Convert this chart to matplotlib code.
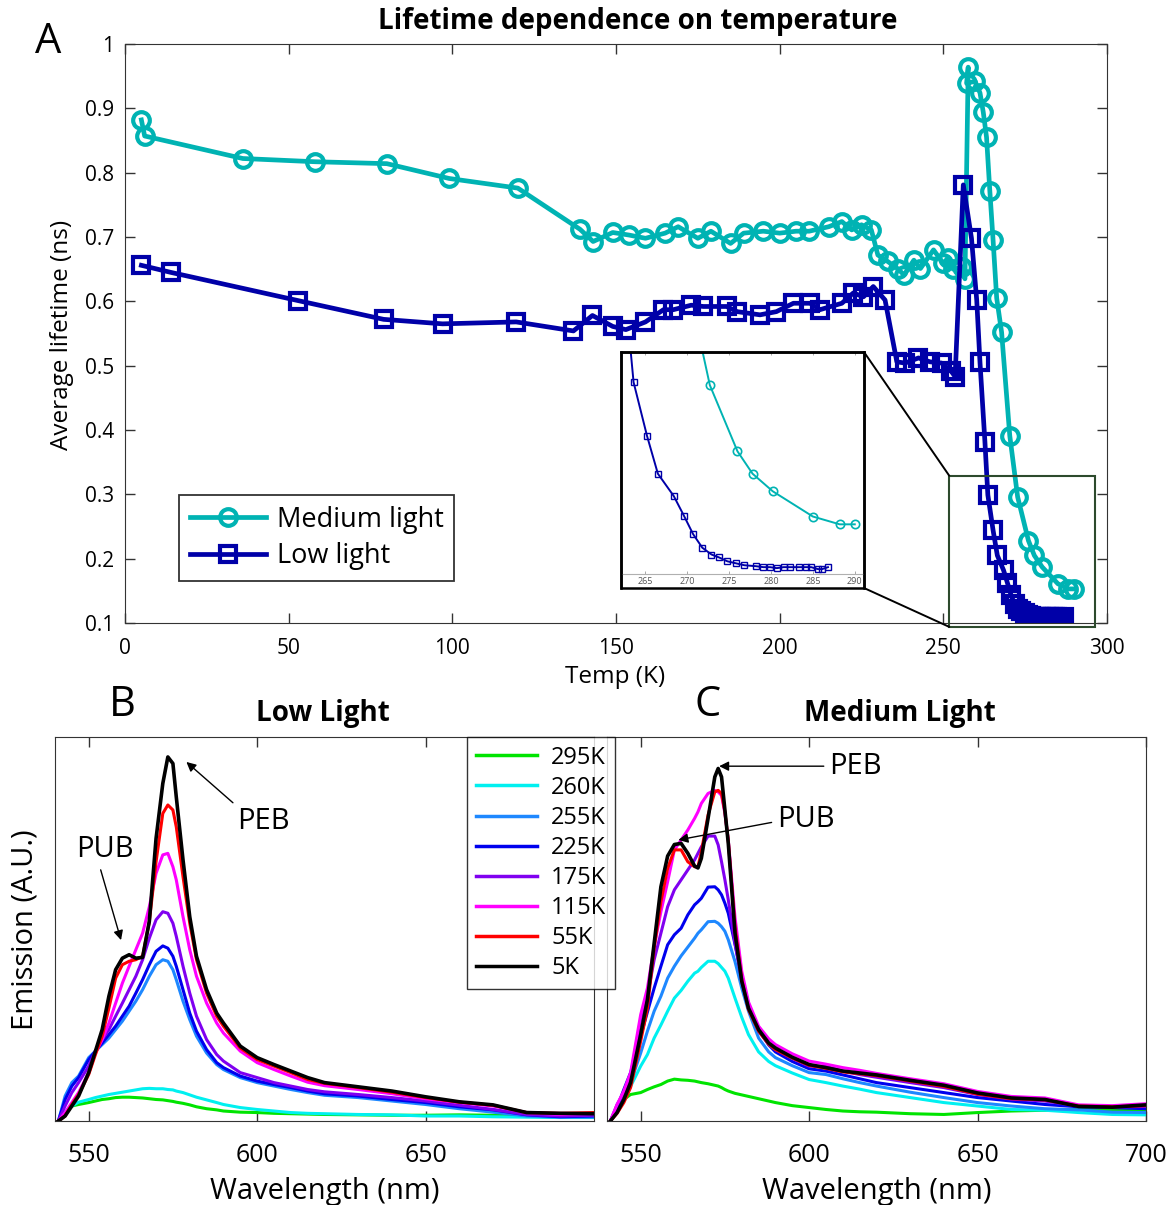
import matplotlib
matplotlib.use("Agg")
import matplotlib.pyplot as plt
from matplotlib.patches import Rectangle, ConnectionPatch

plt.rcParams['font.family'] = ['Open Sans', 'DejaVu Sans']

# ---- Panel A: average lifetime vs temperature ----
medium_T = [5, 6, 36, 58, 80, 99, 120, 139, 143, 149, 154, 159, 165, 169, 175, 179,
            185, 189, 195, 200, 205, 209, 215, 219, 222, 225, 228, 230, 233, 236, 238,
            241, 243, 247, 250, 251.5, 253, 255.6, 256.6, 257.6, 257.1, 259.7, 261.2,
            262.2, 263.2, 264.2, 265.2, 266.3, 267.8, 270.3, 272.7, 276, 277.8, 280.2,
            285, 288.2, 290]
medium_tau = [0.882, 0.857, 0.822, 0.817, 0.814, 0.791, 0.776, 0.712, 0.693, 0.707,
              0.703, 0.698, 0.706, 0.716, 0.698, 0.709, 0.690, 0.706, 0.709, 0.706,
              0.709, 0.709, 0.716, 0.724, 0.711, 0.719, 0.711, 0.672, 0.662, 0.651,
              0.641, 0.664, 0.651, 0.680, 0.659, 0.668, 0.650, 0.653, 0.635, 0.964,
              0.939, 0.942, 0.924, 0.894, 0.855, 0.772, 0.695, 0.605, 0.552, 0.391,
              0.296, 0.228, 0.205, 0.187, 0.161, 0.153, 0.153]

low_T = [5, 14, 53, 79, 97, 119.5, 137, 142.8, 149, 153, 159, 164.5, 167.5, 173, 176.7,
         183.8, 187, 194, 199, 204.2, 209.3, 212.3, 219, 222.5, 225.6, 228.6, 232.2,
         235.8, 238.3, 242.4, 245.9, 249.5, 252.3, 253.6, 256.1, 258.6, 260.2, 261.2,
         262.7, 263.6, 265.2, 266.5, 268.4, 269.6, 270.7, 271.8, 272.9, 273.8, 274.8,
         275.8, 276.8, 278.2, 279.1, 279.9, 280.7, 281.5, 282.3, 283.4, 284.2, 284.8,
         285.6, 286.1, 286.8]
low_tau = [0.656, 0.645, 0.601, 0.572, 0.565, 0.568, 0.554, 0.578, 0.561, 0.556, 0.568,
           0.587, 0.587, 0.594, 0.592, 0.592, 0.584, 0.579, 0.584, 0.597, 0.597, 0.587,
           0.597, 0.613, 0.607, 0.623, 0.602, 0.506, 0.504, 0.512, 0.506, 0.504, 0.492,
           0.483, 0.781, 0.698, 0.602, 0.505, 0.382, 0.299, 0.244, 0.205, 0.182, 0.162,
           0.143, 0.129, 0.122, 0.119, 0.115, 0.113, 0.111, 0.110, 0.109, 0.109, 0.108,
           0.109, 0.109, 0.109, 0.109, 0.109, 0.107, 0.107, 0.109]

# ---- Panels B/C: emission spectra (arbitrary units, % of axis height) ----
temps = ['295K', '260K', '255K', '225K', '175K', '115K', '55K', '5K']
colors = ['#00E400', '#00F0F0', '#1E88FF', '#0000EE', '#8000F0', '#FF00FF', '#FF0000', '#000000']

wl_b = [541, 543, 545, 547, 550, 552, 554, 556, 558, 560, 562, 564, 566, 568, 570, 572,
        573.5, 575, 576, 578, 580, 582, 585, 588, 590, 595, 600, 605, 610, 615, 620,
        630, 640, 650, 660, 670, 680, 690, 700]
low_295 = [0, 2.2, 3.9, 4.3, 4.8, 5.2, 5.6, 5.8, 6.1, 6.2, 6.2, 6.1, 6.0, 5.8, 5.6, 5.5,
           5.3, 5.1, 4.9, 4.6, 4.2, 3.7, 3.2, 2.9, 2.6, 2.3, 2.2, 2.0, 1.9, 1.8, 1.7,
           1.6, 1.5, 1.5, 1.6, 1.5, 1.3, 1.1, 1.0]
low_260 = [0, 2.2, 3.9, 4.9, 5.6, 6.1, 6.5, 6.9, 7.2, 7.5, 7.8, 8.1, 8.4, 8.5, 8.4, 8.4,
           8.2, 8.1, 7.8, 7.4, 6.8, 6.2, 5.5, 4.8, 4.3, 3.5, 3.0, 2.6, 2.2, 2.0, 1.9,
           1.7, 1.6, 1.3, 1.3, 1.1, 1.0, 0.9, 0.9]
low_255 = [0, 6.5, 10.0, 11.7, 16.5, 18.2, 19.9, 21.6, 23.8, 26.0, 28.6, 31.2, 34.2,
           37.7, 40.7, 42.0, 41.6, 39.4, 36.8, 31.2, 26.4, 22.1, 17.7, 14.7, 13.4, 11.3,
           10.0, 9.1, 8.2, 7.4, 6.7, 6.1, 5.2, 4.3, 3.2, 2.3, 1.3, 1.0, 1.0]
low_225 = [0, 5.6, 9.1, 11.3, 16.0, 18.2, 20.3, 22.5, 24.7, 27.3, 29.9, 33.3, 36.8,
           40.7, 44.2, 45.6, 45.0, 42.9, 40.3, 34.2, 28.1, 23.4, 18.6, 15.2, 13.9, 11.7,
           10.4, 9.5, 8.7, 7.8, 7.1, 6.5, 5.6, 4.8, 3.7, 2.9, 1.6, 1.1, 1.3]
low_175 = [0, 3.9, 7.4, 10.0, 14.3, 18.2, 21.2, 23.8, 27.3, 30.7, 34.2, 37.7, 42.0,
           47.6, 52.4, 54.5, 54.1, 51.5, 48.1, 40.3, 33.3, 27.3, 21.2, 17.3, 15.6, 12.6,
           11.3, 10.0, 9.1, 8.2, 7.6, 6.9, 6.1, 5.2, 4.1, 3.0, 1.7, 1.3, 1.5]
low_115 = [0, 2.2, 4.8, 7.4, 12.6, 17.7, 21.2, 25.5, 30.7, 35.9, 40.3, 44.6, 48.9,
           55.8, 64.5, 69.3, 69.7, 66.2, 62.8, 53.2, 44.6, 37.7, 30.7, 25.5, 22.9, 18.2,
           15.2, 13.4, 11.7, 10.1, 9.2, 8.2, 7.1, 5.8, 4.8, 3.9, 2.2, 1.7, 2.0]
low_55 = [0, 1.3, 4.3, 6.9, 12.1, 17.3, 22.1, 29.4, 37.2, 40.7, 41.6, 42.0, 42.9, 51.9,
          67.5, 80.1, 82.3, 81.0, 76.6, 63.6, 51.5, 42.0, 33.3, 27.3, 24.7, 19.0, 16.0,
          14.3, 12.6, 10.8, 9.8, 8.7, 7.5, 6.1, 4.9, 4.1, 2.2, 2.0, 2.2]
low_5 = [0, 1.3, 3.9, 6.5, 12.6, 18.2, 23.8, 32.5, 39.4, 42.4, 43.3, 42.4, 42.6, 52.0,
         73.6, 87.9, 94.8, 93.1, 84.4, 68.0, 53.2, 42.9, 34.2, 28.1, 25.5, 19.5, 16.5,
         14.7, 13.0, 11.3, 10.0, 8.9, 7.8, 6.3, 5.0, 4.2, 2.2, 2.0, 1.9]

wl_c = [541, 543, 545, 547, 550, 552, 554, 556, 558, 560, 562, 564, 566, 567, 568, 570,
        572, 573, 574, 575, 576, 578, 580, 582, 585, 588, 590, 595, 600, 605, 610, 615,
        620, 630, 640, 650, 660, 670, 680, 690, 700]
med_295 = [0, 3.0, 5.6, 6.9, 7.4, 8.2, 8.9, 9.5, 10.4, 10.9, 10.7, 10.6, 10.4, 10.2,
           10.0, 9.7, 9.3, 9.1, 8.7, 8.2, 7.8, 7.2, 6.8, 6.4, 5.8, 5.2, 4.8, 4.0, 3.5,
           3.0, 2.6, 2.4, 2.3, 1.9, 1.7, 2.2, 2.6, 2.8, 3.0, 2.9, 2.9]
med_260 = [0, 2.6, 6.5, 9.0, 14.3, 17.3, 21.6, 25.0, 28.6, 32.0, 34.0, 36.4, 38.5, 39.0,
           40.0, 41.6, 41.6, 41.0, 40.0, 39.0, 37.2, 32.0, 27.0, 22.5, 18.0, 15.5, 14.4,
           12.5, 10.8, 10.0, 9.1, 8.3, 7.4, 6.1, 4.8, 3.9, 3.0, 2.8, 2.2, 1.7, 1.6]
med_255 = [0, 3.0, 6.5, 10.0, 17.7, 23.4, 28.6, 32.5, 37.2, 40.3, 43.0, 45.3, 47.6,
           48.9, 49.8, 51.9, 52.0, 51.5, 50.6, 49.4, 47.2, 41.5, 34.6, 28.6, 21.6, 18.0,
           16.5, 14.4, 12.6, 12.1, 11.0, 10.0, 9.1, 7.5, 6.1, 4.8, 3.9, 3.2, 2.9, 2.3, 2.2]
med_225 = [0, 3.5, 8.2, 12.6, 22.1, 28.4, 34.6, 40.3, 45.9, 48.5, 50.2, 53.7, 56.3,
           57.1, 58.0, 60.9, 61.0, 60.2, 58.9, 56.7, 54.1, 46.0, 37.5, 30.5, 23.8, 19.8,
           18.0, 15.5, 13.6, 13.0, 12.0, 11.0, 10.0, 8.7, 7.4, 6.1, 5.2, 4.3, 3.7, 3.5, 3.2]
med_175 = [0, 4.3, 7.4, 11.7, 26.4, 32.5, 42.0, 48.9, 55.8, 60.2, 62.8, 65.4, 68.0,
           69.7, 71.4, 74.2, 74.2, 71.9, 67.5, 62.8, 57.6, 46.3, 36.4, 29.9, 23.4, 20.0,
           18.6, 16.3, 14.3, 14.2, 13.0, 12.1, 11.4, 10.0, 8.7, 6.9, 5.7, 5.2, 3.9, 3.6, 3.8]
med_115 = [0, 4.3, 7.8, 12.6, 27.7, 34.6, 45.5, 54.5, 62.3, 70.6, 73.2, 75.8, 78.8,
           80.5, 82.7, 85.3, 86.1, 85.7, 84.8, 80.1, 73.2, 53.0, 39.0, 31.0, 24.7, 21.4,
           19.9, 17.5, 15.6, 14.8, 13.9, 13.2, 12.4, 11.0, 9.7, 7.7, 6.4, 6.0, 4.2, 4.0, 4.5]
med_55 = [0, 2.0, 4.8, 8.7, 20.8, 29.4, 45.0, 57.1, 65.8, 70.6, 70.6, 67.5, 66.2, 66.2,
          70.1, 79.7, 85.7, 86.1, 85.3, 80.5, 73.0, 50.6, 36.8, 29.0, 23.4, 20.0, 18.6,
          16.4, 14.5, 13.7, 12.8, 12.3, 11.8, 10.4, 9.0, 7.0, 5.8, 5.5, 3.9, 3.7, 4.0]
med_5 = [0, 2.2, 5.6, 10.0, 22.5, 31.6, 46.3, 61.0, 69.0, 72.0, 72.3, 69.7, 66.4, 65.9,
         68.4, 78.8, 89.6, 91.8, 89.6, 81.0, 72.3, 48.9, 36.4, 29.4, 23.8, 20.3, 19.0,
         16.6, 14.7, 13.9, 13.0, 12.5, 12.0, 10.6, 9.3, 7.3, 6.0, 5.6, 3.8, 3.6, 4.2]

low_spectra = [low_295, low_260, low_255, low_225, low_175, low_115, low_55, low_5]
med_spectra = [med_295, med_260, med_255, med_225, med_175, med_115, med_55, med_5]

W, H = 1171, 1205
fig = plt.figure(figsize=(W / 100, H / 100), dpi=100)


def px_axes(left, top, right, bottom):
    return fig.add_axes([left / W, 1 - bottom / H, (right - left) / W, (bottom - top) / H])


teal = '#00B3B3'
navy = '#0000A8'
spine_col = '#333333'

# ---------------- Panel A ----------------
ax = px_axes(125, 44, 1107, 623)
ax.plot(medium_T, medium_tau, '-o', color=teal, lw=3.4, ms=12, mfc='none', mew=3,
        label='Medium light')
ax.plot(low_T, low_tau, '-s', color=navy, lw=3.4, ms=11, mfc='none', mew=3,
        label='Low light')
ax.set_xlim(0, 300)
ax.set_ylim(0.1, 1)
ax.set_xticks(range(0, 301, 50))
yt = [0.1, 0.2, 0.3, 0.4, 0.5, 0.6, 0.7, 0.8, 0.9, 1.0]
ax.set_yticks(yt)
ax.set_yticklabels(['0.1', '0.2', '0.3', '0.4', '0.5', '0.6', '0.7', '0.8', '0.9', '1'])
ax.tick_params(direction='in', top=True, right=True, length=7, width=1,
               labelsize=15, color=spine_col)
ax.tick_params(axis='x', pad=11)
ax.tick_params(axis='y', pad=8)
for s in ax.spines.values():
    s.set_color(spine_col)
ax.legend(loc='upper left', bbox_to_anchor=(0.055, 0.221), borderaxespad=0,
          fontsize=19.5, frameon=True, fancybox=False, edgecolor='black',
          handlelength=2.8, handletextpad=0.4, labelspacing=0.3, borderpad=0.4
          ).get_frame().set_linewidth(1.3)

# zoom box on main panel
ax.add_patch(Rectangle((251.8, 0.094), 44.6, 0.235, fill=False, ec='#2d4a2d', lw=1.5,
                       clip_on=False, zorder=4))

# inset
ax_in = px_axes(621, 352, 864, 588)
ax_in.set_zorder(5)
ax_in.plot(medium_T, medium_tau, '-o', color=teal, lw=1.4, ms=6, mfc='none', mew=1.2)
ax_in.plot(low_T, low_tau, '-s', color=navy, lw=1.4, ms=5, mfc='none', mew=1.0)
ax_in.set_xlim(262.1, 291.1)
ax_in.set_ylim(0.0876, 0.330)
ax_in.set_yticks([])
ax_in.set_xticks(range(265, 291, 5))
ax_in.spines['bottom'].set_position(('data', 0.102))
ax_in.spines['bottom'].set_color('#b0b0b0')
for side in ['left', 'right', 'top']:
    ax_in.spines[side].set_linewidth(1.8)
    ax_in.spines[side].set_color('black')
ax_in.tick_params(axis='x', direction='in', top=True, length=2, width=0.6,
                  labelsize=6.5, labelcolor='#555555', color='#999999', pad=2)
ax_in.add_patch(Rectangle((0, 0), 1, 1, transform=ax_in.transAxes, fill=False,
                          ec='black', lw=1.8, clip_on=False, zorder=10))

for corner, yb in [((1, 1), 0.329), ((1, 0), 0.094)]:
    con = ConnectionPatch(xyA=corner, coordsA=ax_in.transAxes, xyB=(251.8, yb),
                          coordsB=ax.transData, color='black', lw=1.4)
    con.set_zorder(6)
    fig.add_artist(con)

fig.text(638 / W, 1 - 22 / H, 'Lifetime dependence on temperature', ha='center',
         va='center', fontsize=20, fontweight='bold')
fig.text(48 / W, 1 - 42 / H, 'A', ha='center', va='center', fontsize=30)
fig.text(615 / W, 1 - 677 / H, 'Temp (K)', ha='center', va='center', fontsize=17.5)
fig.text(62 / W, 1 - 335 / H, 'Average lifetime (ns)', ha='center', va='center',
         fontsize=17.5, rotation=90)

# ---------------- Panels B and C ----------------
ax_b = px_axes(55, 737, 594, 1121)
ax_c = px_axes(607, 737, 1146, 1121)

lines = []
for spec, col in zip(low_spectra, colors):
    lw = 2.6 if col == '#000000' else 2.2
    ln, = ax_b.plot(wl_b, spec, color=col, lw=lw)
    lines.append(ln)
for spec, col in zip(med_spectra, colors):
    lw = 2.6 if col == '#000000' else 2.2
    ax_c.plot(wl_c, spec, color=col, lw=lw)

for a, ticks in [(ax_b, [550, 600, 650]), (ax_c, [550, 600, 650, 700])]:
    a.set_xlim(540, 700)
    a.set_ylim(0, 100)
    a.set_yticks([])
    a.set_xticks(ticks)
    a.tick_params(direction='in', top=True, length=7, width=1, labelsize=18,
                  pad=16, color=spine_col)
    for s in a.spines.values():
        s.set_color(spine_col)
    a.set_xlabel('Wavelength (nm)', fontsize=21, labelpad=6)

arrow = dict(arrowstyle='-|>', color='black', lw=1.0, mutation_scale=14,
             shrinkA=2, shrinkB=0)
ax_b.annotate('PEB', xy=(579, 93.5), xytext=(601.9, 77.9), ha='center', va='center',
              fontsize=21, arrowprops=dict(arrow, relpos=(0.05, 0.95)))
ax_b.annotate('PUB', xy=(559.6, 47.1), xytext=(554.8, 70.6), ha='center', va='center',
              fontsize=21, arrowprops=dict(arrow, relpos=(0.4, 0.0)))
ax_c.annotate('PEB', xy=(573.3, 92.4), xytext=(606, 92.4), ha='left', va='center',
              fontsize=21, arrowprops=dict(arrow, relpos=(0.0, 0.5)))
ax_c.annotate('PUB', xy=(561.2, 73.2), xytext=(590.5, 78.4), ha='left', va='center',
              fontsize=21, arrowprops=dict(arrow, relpos=(0.0, 0.45)))

leg = fig.legend(lines, temps, loc='upper left', bbox_to_anchor=(467 / W, 1 - 737 / H),
                 frameon=True, fancybox=False, edgecolor='black', fontsize=17,
                 handlelength=2.6, handletextpad=0.6, labelspacing=0.26,
                 borderpad=0.36, borderaxespad=0)
leg.get_frame().set_linewidth(1.0)
for ln in leg.get_lines():
    ln.set_linewidth(2.5)

fig.text(122 / W, 1 - 705 / H, 'B', ha='center', va='center', fontsize=30)
fig.text(708 / W, 1 - 705 / H, 'C', ha='center', va='center', fontsize=30)
fig.text(323 / W, 1 - 713 / H, 'Low Light', ha='center', va='center', fontsize=20,
         fontweight='bold')
fig.text(900 / W, 1 - 713 / H, 'Medium Light', ha='center', va='center', fontsize=20,
         fontweight='bold')
fig.text(25 / W, 1 - 930 / H, 'Emission (A.U.)', ha='center', va='center',
         fontsize=21, rotation=90)

fig.savefig('out.png', dpi=100)
